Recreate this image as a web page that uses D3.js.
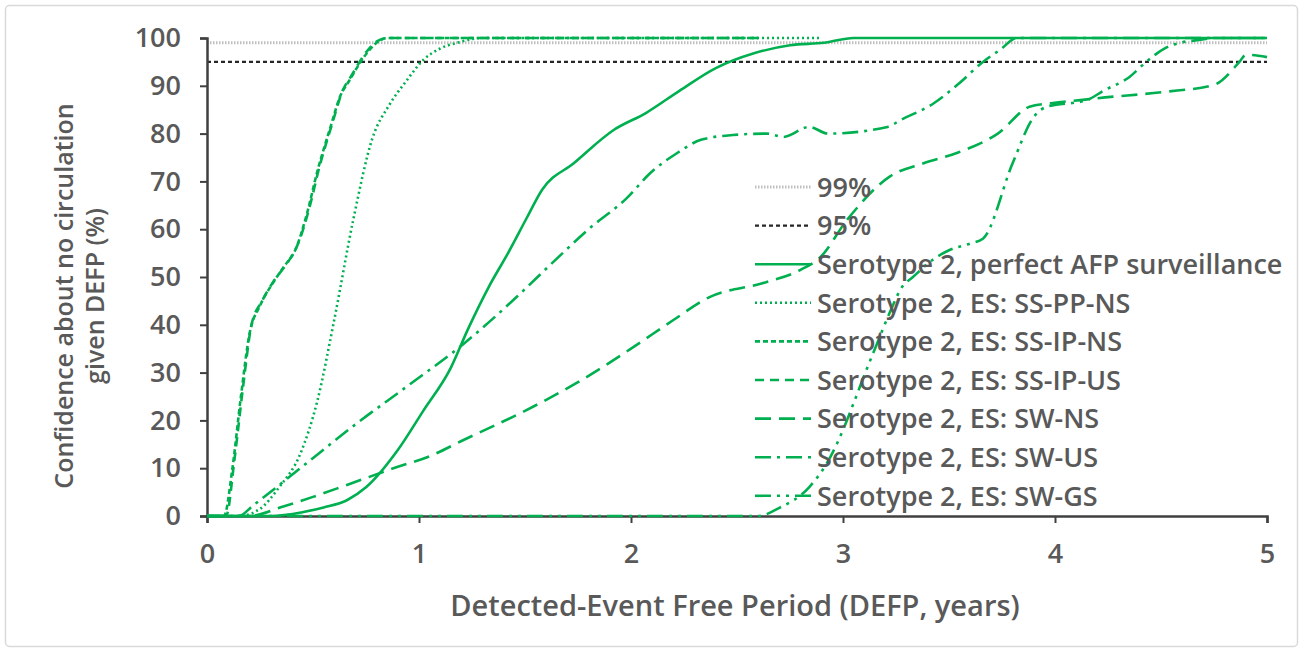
<!DOCTYPE html>
<html>
<head>
<meta charset="utf-8">
<script src="https://cdn.jsdelivr.net/npm/d3@7"></script>
<style>
  body { margin: 0; background: #fff; }
  svg text { font-family: "Open Sans", Lato, sans-serif; font-weight: 600; fill: #595959; }
</style>
</head>
<body>
<div id="chart"></div>
<script>
// series values, [years, confidence %]
var afp = [[0,0],[0.3,0],[0.45,0.8],[0.55,1.8],[0.66,3.3],[0.75,6],[0.9,13.8],[1.02,22],[1.15,31],[1.23,39],
  [1.33,48],[1.42,55],[1.51,62.5],[1.58,68.2],[1.73,73.8],[1.92,80.8],[2.07,84.3],[2.23,89],[2.4,93.7],
  [2.58,96.8],[2.75,98.5],[2.91,99],[3.05,100],[5,100]];
var ssPpNs = [[0,0],[0.15,0],[0.25,1.5],[0.34,6],[0.44,13],[0.52,24],[0.6,41],[0.69,62],[0.78,79],[0.86,86],
  [0.94,91],[1.02,95.4],[1.1,97.8],[1.18,99],[1.3,100],[2.9,100]];
var ssIpNs = [[0,0],[0.08,0],[0.12,10],[0.16,25],[0.2,38],[0.25,44],[0.31,48.7],[0.36,52],[0.42,56],[0.47,63],
  [0.52,72],[0.58,81],[0.63,88],[0.67,91],[0.74,96],[0.8,99],[0.85,100],[2.6,100]];
var ssIpUs = [[0,0],[0.09,0],[0.13,12],[0.17,27],[0.21,40],[0.26,45],[0.32,49.5],[0.38,53],[0.43,57],[0.48,64],
  [0.53,73],[0.59,82],[0.64,89],[0.68,92],[0.75,97],[0.81,99.5],[0.86,100],[2.6,100]];
var swNs = [[0,0],[0.2,0],[0.36,2],[0.5,4],[0.66,6.5],[0.9,10.3],[1.05,12.5],[1.21,15.9],[1.5,22],[1.75,28],
  [2.0,35],[2.2,41],[2.37,45.8],[2.62,48.7],[2.8,51.5],[2.89,54],[3.02,62],[3.22,71],[3.38,73.8],[3.54,76],
  [3.73,80],[3.88,85.6],[3.99,86.4],[4.12,87],[4.2,87.4],[4.51,88.7],[4.75,90.2],[4.87,95],[4.9,96.5],[5,96]];
var swUs = [[0,0],[0.15,0],[0.22,2.3],[0.44,10],[0.71,19.5],[0.94,27],[1.21,36],[1.46,45.8],[1.63,53],[1.8,60],
  [1.98,66.5],[2.09,71.7],[2.22,76],[2.33,78.7],[2.48,79.7],[2.64,80],[2.72,79.3],[2.84,81.4],[2.93,80],[3.21,81.4],
  [3.27,82.8],[3.43,86.4],[3.55,90.6],[3.66,95],[3.74,97.5],[3.82,100],[5,100]];
var swGs = [[0,0],[2.6,0],[2.7,1.7],[2.84,6],[2.94,12.3],[3.0,18],[3.05,23.6],[3.11,30.5],[3.16,36],[3.22,42.5],
  [3.28,48],[3.33,50],[3.42,53.5],[3.5,55.6],[3.6,57],[3.66,58],[3.8,73.8],[3.9,83.5],[3.96,85.6],[4.15,87],
  [4.23,89],[4.35,91.8],[4.43,95],[4.52,97.9],[4.59,99],[4.68,99.6],[4.75,100],[5,100]];

var xTicks = [0, 1, 2, 3, 4, 5];
var yTicks = [0, 10, 20, 30, 40, 50, 60, 70, 80, 90, 100];
var seriesNames = ["Serotype 2, perfect AFP surveillance", "Serotype 2, ES: SS-PP-NS", "Serotype 2, ES: SS-IP-NS",
  "Serotype 2, ES: SS-IP-US", "Serotype 2, ES: SW-NS", "Serotype 2, ES: SW-US", "Serotype 2, ES: SW-GS"];
var seriesData = [afp, ssPpNs, ssIpNs, ssIpUs, swNs, swUs, swGs];
var dashes = [null, "2,3", "5,3", "9,6", "16,8", "16,6,3,6", "16,6,3,6,3,6"];

var W = 1303, H = 652;
var green = "#00b050";

var svg = d3.select("#chart").append("svg").attr("width", W).attr("height", H);

svg.append("rect").attr("x", 5.5).attr("y", 5.5).attr("width", W - 11).attr("height", H - 11)
  .attr("rx", 4).attr("fill", "#fff").attr("stroke", "#d9d9d9").attr("stroke-width", 1.5);

var x = d3.scaleLinear().domain([0, 5]).range([207, 1267]);
var y = d3.scaleLinear().domain([0, 100]).range([516, 38]);

// reference lines 99% / 95%
svg.append("line").attr("x1", x(0)).attr("x2", x(5)).attr("y1", y(99)).attr("y2", y(99))
  .attr("stroke", "#bfbfbf").attr("stroke-width", 3).attr("stroke-dasharray", "1.5,1.5");
svg.append("line").attr("x1", x(0)).attr("x2", x(5)).attr("y1", y(95)).attr("y2", y(95))
  .attr("stroke", "#262626").attr("stroke-width", 2.2).attr("stroke-dasharray", "4,3");

// axes
var yAxis = svg.append("g").attr("transform", "translate(" + x(0) + ",0)")
  .call(d3.axisLeft(y).tickValues(yTicks).tickSize(7).tickPadding(19));
var xAxis = svg.append("g").attr("transform", "translate(0," + y(0) + ")")
  .call(d3.axisBottom(x).tickValues(xTicks).tickFormat(d3.format("d")).tickSize(7).tickPadding(21));
[yAxis, xAxis].forEach(function(a){
  a.select(".domain").attr("stroke", "#404040").attr("stroke-width", 2.5);
  a.selectAll(".tick line").attr("stroke", "#404040").attr("stroke-width", 2);
  a.selectAll(".tick text").style("font-size", "27px").attr("fill", "#595959");
});

var line = d3.line().x(function(d){ return x(d[0]); }).y(function(d){ return y(d[1]); })
  .curve(d3.curveMonotoneX);

seriesData.forEach(function(s, i){
  svg.append("path").datum(s).attr("d", line).attr("fill", "none")
    .attr("stroke", green).attr("stroke-width", 2.6)
    .attr("stroke-dasharray", dashes[i]);
});

// legend
var lx = 755, ly = 187, step = 38.6;
var legItems = [{name: "99%", stroke: "#bfbfbf", w: 3, dash: "1.5,1.5"},
                {name: "95%", stroke: "#262626", w: 2.2, dash: "4,3"}];
seriesNames.forEach(function(n, i){ legItems.push({name: n, stroke: green, w: 2.6, dash: dashes[i]}); });
legItems.forEach(function(it, i){
  var yy = ly + i * step;
  svg.append("line").attr("x1", lx).attr("x2", lx + 56).attr("y1", yy).attr("y2", yy)
    .attr("stroke", it.stroke).attr("stroke-width", it.w).attr("stroke-dasharray", it.dash);
  svg.append("text").attr("x", lx + 62).attr("y", yy).attr("dy", "0.36em")
    .style("font-size", "27px").text(it.name);
});

// axis titles
svg.append("text").attr("x", 735).attr("y", 616).attr("text-anchor", "middle")
  .style("font-size", "29px").text("Detected-Event Free Period (DEFP, years)");
var yt = svg.append("text").attr("transform", "translate(73,296) rotate(-90)").attr("text-anchor", "middle")
  .style("font-size", "25px");
yt.append("tspan").attr("x", 0).attr("y", 0).text("Confidence about no circulation");
yt.append("tspan").attr("x", 0).attr("y", 31).text("given DEFP (%)");
</script>
</body>
</html>
